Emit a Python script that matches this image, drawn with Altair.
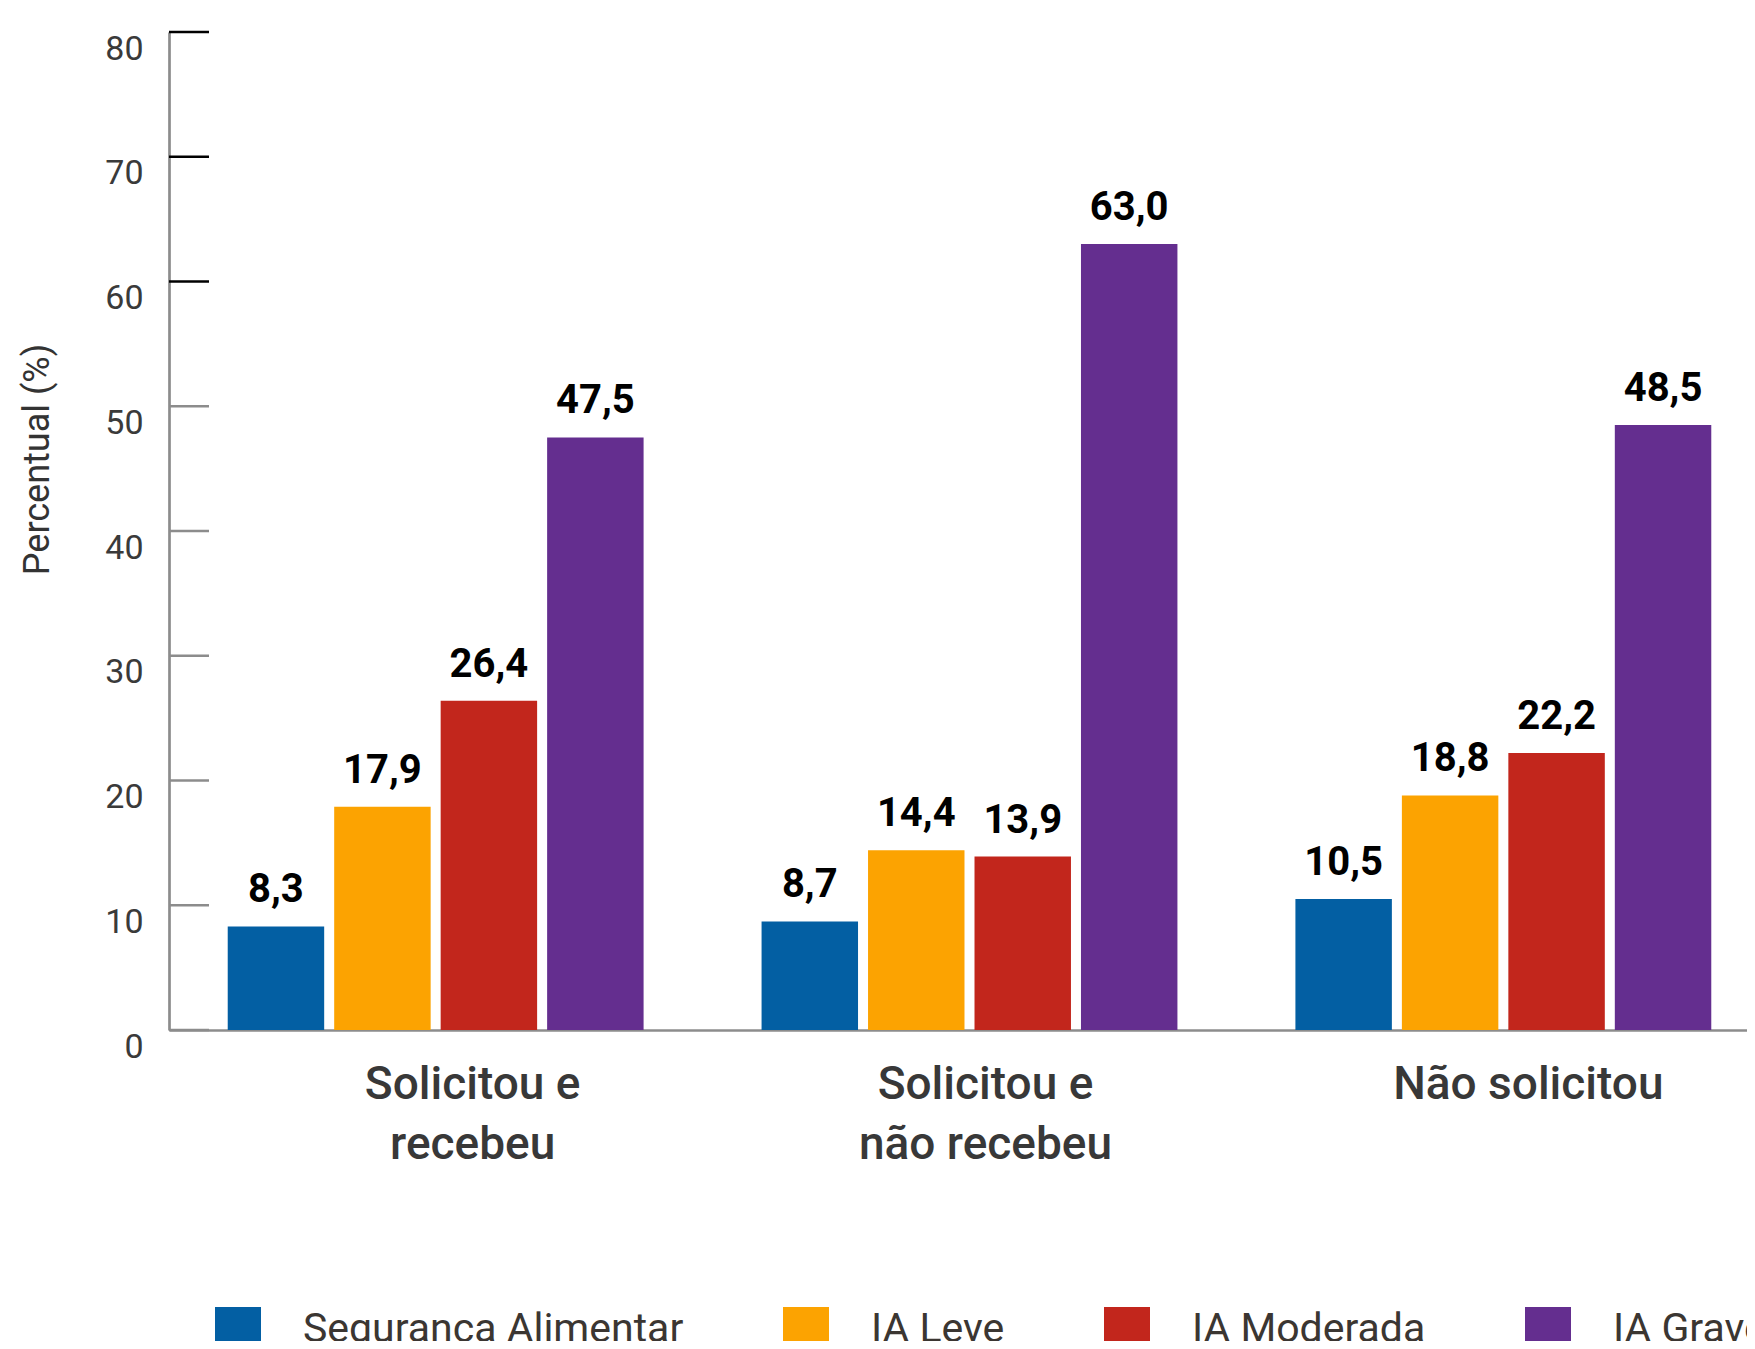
import altair as alt
import pandas as pd

# ---- data ----
categories = ["Solicitou e recebeu", "Solicitou e não recebeu", "Não solicitou"]
series = ["Segurança Alimentar", "IA Leve", "IA Moderada", "IA Grave"]
colors = ["#035fa3", "#fca301", "#c2261c", "#642e8f"]
seguranca_alimentar = [8.3, 8.7, 10.5]
ia_leve = [17.9, 14.4, 18.8]
ia_moderada = [26.4, 13.9, 22.2]
ia_grave = [47.5, 63.0, 48.5]
y_ticks = [0, 10, 20, 30, 40, 50, 60, 70, 80]

values_by_series = [seguranca_alimentar, ia_leve, ia_moderada, ia_grave]
rows = []
for s, vals in zip(series, values_by_series):
    for c, v in zip(categories, vals):
        rows.append({"cat": c, "serie": s, "valor": v,
                     "rotulo": f"{v:.1f}".replace(".", ",")})
df = pd.DataFrame(rows)
ticks_df = pd.DataFrame({"valor": y_ticks})

FONT = "Roboto"
GRAY = "#8c8c8c"

label_expr = (
    "datum.value == 'Solicitou e recebeu' ? ['Solicitou e', 'recebeu'] : "
    "datum.value == 'Solicitou e não recebeu' ? ['Solicitou e', 'não recebeu'] : datum.value"
)
label_offset_expr = (
    "datum.value == 'Solicitou e recebeu' ? 37 : "
    "datum.value == 'Solicitou e não recebeu' ? 16 : 25"
)

x_axis = alt.Axis(labelExpr=label_expr, labelFont=FONT, labelFontSize=46,
                  labelFontWeight=500, labelColor="#383838", labelAngle=0,
                  labelPadding=32, labelLineHeight=60, labelBaseline="top",
                  labelOffset=alt.expr(label_offset_expr),
                  ticks=False, tickSize=0, domainColor=GRAY, domainWidth=2.6,
                  labelLimit=0)
x_scale = alt.Scale(paddingInner=0.221, paddingOuter=0.11, range=[0, 1601])
xoff_scale = alt.Scale(paddingInner=0.094, paddingOuter=0)

y_scale = alt.Scale(domain=[0, 80], nice=False, zero=True)
y_axis = alt.Axis(values=y_ticks, ticks=False, tickSize=0, grid=False,
                  labelFont=FONT, labelFontSize=34, labelColor="#3a3a3a",
                  labelPadding=26, labelOffset=17,
                  domainColor=GRAY, domainWidth=2.7,
                  titleFont=FONT, titleFontSize=36, titleFontWeight="normal",
                  titleColor="#333333", titleAngle=270, titleAlign="center",
                  titleBaseline="middle", titleX=-132, titleY=427)
Y_TITLE = "Percentual (%)"

bars = alt.Chart(df).mark_bar().encode(
    x=alt.X("cat:N", sort=categories, title=None, scale=x_scale, axis=x_axis),
    xOffset=alt.XOffset("serie:N", sort=series, scale=xoff_scale),
    y=alt.Y("valor:Q", scale=y_scale, title=Y_TITLE, axis=y_axis),
    color=alt.Color("serie:N", sort=series,
                    scale=alt.Scale(domain=series, range=colors),
                    legend=alt.Legend(title=None, orient="none", legendX=46, legendY=1275,
                                      direction="horizontal", symbolType="square",
                                      symbolSize=2116, symbolStrokeWidth=0,
                                      labelFont=FONT, labelFontSize=41,
                                      labelColor="#3b3632", labelOffset=42,
                                      columnPadding=99, padding=0, labelLimit=0)),
)

texts = alt.Chart(df).mark_text(font=FONT, fontWeight="bold", fontSize=40,
                                dy=-24, baseline="alphabetic", color="#000000").encode(
    x=alt.X("cat:N", sort=categories, title=None, scale=x_scale, axis=x_axis),
    xOffset=alt.XOffset("serie:N", sort=series, scale=xoff_scale),
    y=alt.Y("valor:Q", scale=y_scale, title=Y_TITLE, axis=y_axis),
    text="rotulo:N",
)

tick_rules = alt.Chart(ticks_df).mark_rule(strokeWidth=2.6).encode(
    x=alt.value(0), x2=alt.value(40),
    y=alt.Y("valor:Q", scale=y_scale, title=Y_TITLE, axis=y_axis),
    color=alt.condition("datum.valor >= 60", alt.value("#000000"), alt.value(GRAY)),
)

chart = alt.layer(bars, tick_rules, texts).properties(
    width=1578, height=998,
    autosize=alt.AutoSizeParams(type="none"),
    padding={"left": 161, "top": 24, "right": 0, "bottom": 311},
).configure_view(stroke=None)

chart.save("out.html", embed_options={"renderer": "svg", "actions": False})
